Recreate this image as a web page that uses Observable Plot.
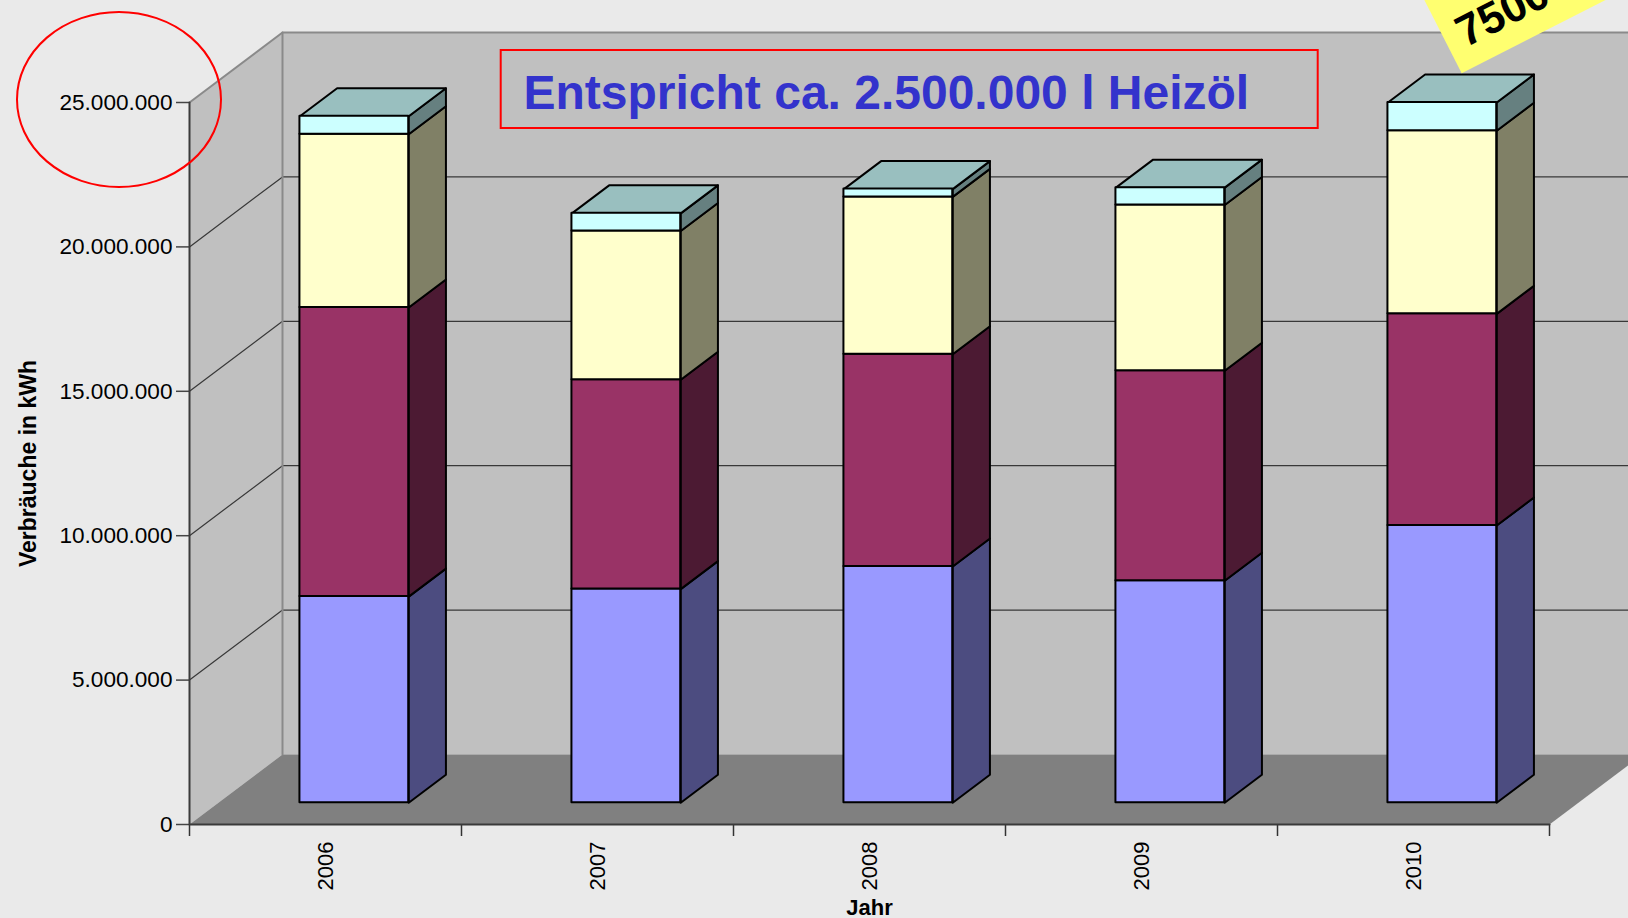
<!DOCTYPE html>
<html><head><meta charset="utf-8">
<script src="https://cdn.jsdelivr.net/npm/d3@7"></script>
<script src="https://cdn.jsdelivr.net/npm/@observablehq/plot@0.6"></script>
<style>
html,body{margin:0;padding:0;background:#eaeaea;overflow:hidden;width:1628px;height:918px;}
svg{display:block;}
</style></head><body>
<script>
// ---- data ----
const years = ["2006", "2007", "2008", "2009", "2010"];
const seriesNames = ["Reihe 1", "Reihe 2", "Reihe 3", "Reihe 4"];
const reihe1 = [7140000, 7400000, 8180000, 7690000, 9600000];
const reihe2 = [10010000, 7250000, 7350000, 7270000, 7330000];
const reihe3 = [6000000, 5150000, 5450000, 5740000, 6340000];
const reihe4 = [620000, 610000, 270000, 600000, 980000];
const yTicks = [0, 5000000, 10000000, 15000000, 20000000, 25000000];
const titleText = "Entspricht ca. 2.500.000 l Heizöl";
const stickerText = "7500";

// ---- layout / style ----
const W = 1628, H = 918;
const M = {left: 189, right: 79, top: 102, bottom: 94};
const yMax = yTicks[yTicks.length - 1];
const n = years.length;
const pxPerX = (W - M.left - M.right) / n;
const pxPerV = (H - M.top - M.bottom) / yMax;
const depthPx = [93, 70];
const KX = depthPx[0] / pxPerX, KY = depthPx[1] / pxPerV;
const P = (x, v, z) => ({X: x + z * KX, Y: v + z * KY});
const barX0 = 0.3, barX1 = 0.7, barZ0 = 0.31, barZ1 = 0.71;
const frontCol = ["#9999ff", "#993366", "#ffffcc", "#ccffff"];
const sideCol = ["#4c4c80", "#4c1a33", "#808066", "#668080"];
const topCol = "#99bfbf";
const series = [reihe1, reihe2, reihe3, reihe4];

const de = d3.formatLocale({decimal: ",", thousands: ".", grouping: [3], currency: ["", " €"]});
const fmt = de.format(",.0f");

let pid = 0;
function poly(arr, pts, fill) {
  const id = pid++;
  for (const [x, v, z] of pts) { const p = P(x, v, z); arr.push({id, fill, X: p.X, Y: p.Y}); }
}

// walls & floor
const walls = [];
poly(walls, [[0,0,1],[n,0,1],[n,yMax,1],[0,yMax,1]], "#c0c0c0");
poly(walls, [[0,0,0],[0,0,1],[0,yMax,1],[0,yMax,0]], "#c0c0c0");
poly(walls, [[0,0,0],[n,0,0],[n,0,1],[0,0,1]], "#808080");
const grid = [];
yTicks.slice(1, -1).forEach(v => poly(grid, [[0,v,0],[0,v,1],[n,v,1]], null));
const edges = [];
poly(edges, [[0,yMax,0],[0,yMax,1],[n,yMax,1]], null);
poly(edges, [[0,0,1],[0,yMax,1]], null);
const axisLines = [];
poly(axisLines, [[0,yMax,0],[0,0,0],[n,0,0]], null);

// bars
const fronts = [], faces = [];
years.forEach((yr, i) => {
  let base = 0;
  series.forEach((vals, s) => {
    const b = base, t = base + vals[i];
    base = t;
    const a = P(i + barX0, b, barZ0), c = P(i + barX1, t, barZ0);
    fronts.push({x1: a.X, x2: c.X, y1: a.Y, y2: c.Y, fill: frontCol[s], year: yr, serie: seriesNames[s]});
    poly(faces, [[i+barX1,b,barZ0],[i+barX1,b,barZ1],[i+barX1,t,barZ1],[i+barX1,t,barZ0]], sideCol[s]);
  });
  poly(faces, [[i+barX0,base,barZ0],[i+barX1,base,barZ0],[i+barX1,base,barZ1],[i+barX0,base,barZ1]], topCol);
});

const font = "'Liberation Sans', Arial, sans-serif";
const chart = Plot.plot({
  width: W, height: H,
  marginLeft: M.left, marginRight: M.right, marginTop: M.top, marginBottom: M.bottom,
  x: {type: "linear", domain: [0, n]},
  y: {type: "linear", domain: [0, yMax]},
  color: {type: "identity"},
  style: {background: "#eaeaea", fontFamily: font, fontSize: "22px", color: "black"},
  marks: [
    Plot.line(walls, {x: "X", y: "Y", z: "id", fill: "fill", stroke: "none", curve: "linear-closed"}),
    Plot.line(grid, {x: "X", y: "Y", z: "id", stroke: "#383838", strokeWidth: 1.2}),
    Plot.line(edges, {x: "X", y: "Y", z: "id", stroke: "#8a8a8a", strokeWidth: 2}),
    Plot.axisY(yTicks, {tickSize: 13, tickPadding: 4, tickFormat: fmt, fontSize: 22.6, stroke: "#444", strokeWidth: 1.5, fill: "black", label: null}),
    Plot.axisX(d3.range(n + 1), {tickSize: 12, tickFormat: () => "", stroke: "#333", strokeWidth: 1.5, label: null}),
    Plot.axisX(years.map((_, i) => i + 0.5), {tickSize: 0, tickPadding: 17, tickRotate: -90, tickFormat: d => years[Math.floor(d)], fontSize: 22, fill: "black", label: null}),
    Plot.line(axisLines, {x: "X", y: "Y", z: "id", stroke: "#3a3a3a", strokeWidth: 2}),
    Plot.line(faces, {x: "X", y: "Y", z: "id", fill: "fill", stroke: "black", strokeWidth: 2, strokeLinejoin: "round", curve: "linear-closed"}),
    Plot.rect(fronts, {x1: "x1", x2: "x2", y1: "y1", y2: "y2", fill: "fill", stroke: "black", strokeWidth: 2, strokeLinejoin: "round"}),
    Plot.text(["Verbräuche in kWh"], {frameAnchor: "left", text: d => d, rotate: -90, dx: -161, textAnchor: "middle", lineAnchor: "middle", fontWeight: "bold", fontSize: 23, fill: "black"}),
    Plot.text(["Jahr"], {frameAnchor: "bottom", text: d => d, dy: 90, textAnchor: "middle", lineAnchor: "bottom", fontWeight: "bold", fontSize: 22, fill: "black"}),
    Plot.text([titleText], {frameAnchor: "top-left", text: d => d, dx: 334, dy: 6, textAnchor: "start", lineAnchor: "bottom", fontWeight: "bold", fontSize: 48, fill: "#3333cc"})
  ]
});
document.body.appendChild(chart);

// annotations
const svg = d3.select(chart);
svg.append("rect").attr("x", 500.7).attr("y", 50).attr("width", 817).attr("height", 78)
  .attr("fill", "none").attr("stroke", "#ff0000").attr("stroke-width", 2);
svg.append("ellipse").attr("cx", 119).attr("cy", 99.5).attr("rx", 102).attr("ry", 87.5)
  .attr("fill", "none").attr("stroke", "#ff0000").attr("stroke-width", 2);
const st = svg.append("g").attr("transform", "translate(1461.7,73.3) rotate(-27)");
st.append("rect").attr("x", 0).attr("y", -120).attr("width", 360).attr("height", 120).attr("fill", "#ffff70");
st.append("text").attr("x", 15).attr("y", -21).attr("text-anchor", "start").attr("font-family", font).attr("font-weight", "bold")
  .attr("font-size", 44).attr("fill", "black").text(stickerText);
</script>
</body></html>
